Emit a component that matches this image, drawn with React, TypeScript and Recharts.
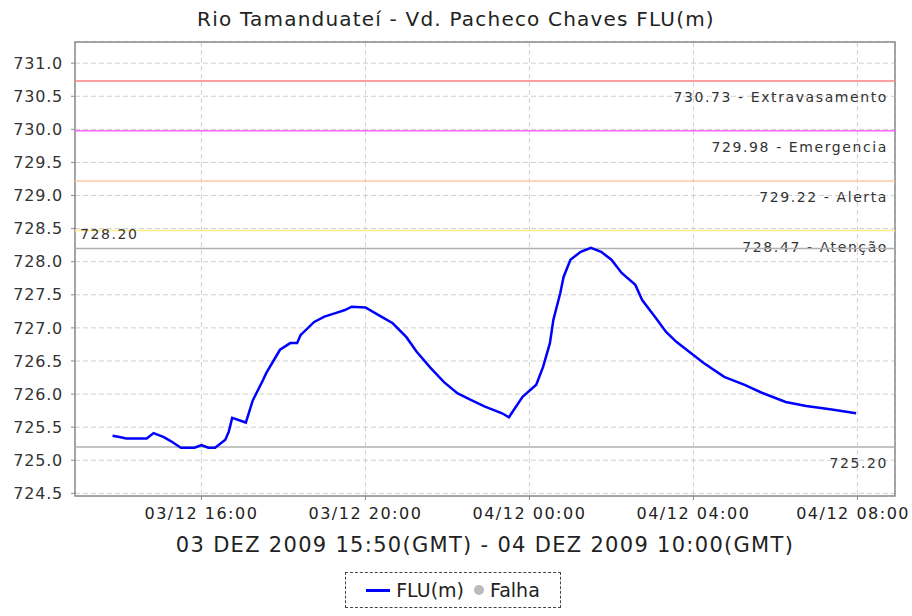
import { LineChart, Line, XAxis, YAxis, CartesianGrid, ReferenceLine, ReferenceArea } from "recharts";

// minutes since 03/12 00:00 (local time)
const MINUTES = [
  830, 840, 850, 880, 890, 905, 915, 930, 950, 960, 970, 980, 995, 1000, 1005, 1025, 1035, 1050, 1055,
  1075, 1090, 1100, 1105, 1125, 1140, 1155, 1170, 1180, 1200, 1220, 1240, 1260, 1275, 1295, 1315, 1335,
  1355, 1375, 1400, 1410, 1430, 1450, 1460, 1470, 1475, 1485, 1490, 1500, 1515, 1530, 1545, 1560, 1575,
  1595, 1605, 1625, 1640, 1655, 1670, 1695, 1725, 1755, 1780, 1815, 1845, 1880, 1918,
];
const LEVELS = [
  725.37, 725.35, 725.33, 725.33, 725.41, 725.35, 725.29, 725.19, 725.19, 725.23, 725.19, 725.19, 725.31,
  725.43, 725.64, 725.57, 725.9, 726.21, 726.32, 726.67, 726.77, 726.77, 726.89, 727.09, 727.17, 727.22,
  727.27, 727.32, 727.31, 727.19, 727.07, 726.86, 726.64, 726.4, 726.18, 726.01, 725.91, 725.81, 725.71,
  725.65, 725.96, 726.14, 726.41, 726.77, 727.12, 727.52, 727.77, 728.03, 728.15, 728.21, 728.15, 728.03,
  727.83, 727.65, 727.42, 727.15, 726.94, 726.79, 726.67, 726.47, 726.26, 726.14, 726.02, 725.88, 725.82,
  725.77, 725.71,
];

const X_TICKS = [960, 1200, 1440, 1680, 1920];
const X_TICK_LABELS = ["03/12 16:00", "03/12 20:00", "04/12 00:00", "04/12 04:00", "04/12 08:00"];
const Y_TICKS = [724.5, 725, 725.5, 726, 726.5, 727, 727.5, 728, 728.5, 729, 729.5, 730, 730.5, 731];

const LIMITS = [730.73, 729.98, 729.22, 728.47];
const LIMIT_NAMES = ["Extravasamento", "Emergencia", "Alerta", "Atenção"];
const LIMIT_COLORS = ["#ff8080", "#ff66ff", "#ffc8a0", "#ffee88"];
const MARKS = [728.2, 725.2];

const X_DOMAIN = [775, 1975];
const Y_DOMAIN = [724.46, 731.32];

const data = MINUTES.map((t, i) => ({ t, flu: LEVELS[i] }));

const FONT = "'DejaVu Sans', sans-serif";

const refText = (text: string, dy: number, left: boolean) => (props: any) => {
  const vb = props.viewBox;
  return (
    <text
      x={left ? vb.x + 5 : vb.x + vb.width - 7}
      y={vb.y + dy}
      textAnchor={left ? "start" : "end"}
      dominantBaseline="central"
      fontFamily={FONT}
      fontSize={14}
      letterSpacing={1.6}
      fill="#333"
    >
      {text}
    </text>
  );
};

const XTick = ({ x, y, payload, index }: any) => {
  // the last label would run past the right edge; pin it there
  const last = index === X_TICKS.length - 1;
  return (
    <text
      x={last ? 910 : x}
      y={y + 17}
      textAnchor={last ? "end" : "middle"}
      fontFamily={FONT}
      fontSize={16}
      letterSpacing={1.5}
      fill="#222"
    >
      {X_TICK_LABELS[X_TICKS.indexOf(payload.value)]}
    </text>
  );
};

export default function App() {
  return (
    <div style={{ position: "absolute", left: 0, top: 0, width: 912, height: 616, background: "#fff" }}>
      <div
        style={{
          position: "absolute",
          left: 0,
          top: 7,
          width: 912,
          textAlign: "center",
          fontFamily: FONT,
          fontSize: 20,
          letterSpacing: 1.2,
          color: "#222",
        }}
      >
        Rio Tamanduateí - Vd. Pacheco Chaves FLU(m)
      </div>
      <LineChart
        width={912}
        height={616}
        data={data}
        margin={{ top: 42, right: 17, left: 0, bottom: 70 }}
        style={{ position: "absolute", left: 0, top: 0 }}
      >
        <CartesianGrid stroke="#cfcfcf" strokeDasharray="5 3" />
        <XAxis
          dataKey="t"
          type="number"
          domain={X_DOMAIN}
          ticks={X_TICKS}
          allowDataOverflow
          height={50}
          tickSize={4}
          axisLine={false}
          tickLine={{ stroke: "#888" }}
          tick={<XTick />}
          label={{
            value: "03 DEZ 2009 15:50(GMT) - 04 DEZ 2009 10:00(GMT)",
            position: "insideBottom",
            offset: -6,
            style: { fontFamily: FONT, fontSize: 21, letterSpacing: 1.3, fill: "#222" },
          }}
        />
        <YAxis
          type="number"
          domain={Y_DOMAIN}
          ticks={Y_TICKS}
          allowDataOverflow
          width={75}
          tickSize={4}
          tickMargin={8}
          axisLine={false}
          tickLine={{ stroke: "#888" }}
          tickFormatter={(v: number) => v.toFixed(1)}
          tick={{ fontFamily: FONT, fontSize: 16, fill: "#333", letterSpacing: 0.8 }}
        />
        <ReferenceArea
          x1={X_DOMAIN[0]}
          x2={X_DOMAIN[1]}
          y1={Y_DOMAIN[0]}
          y2={Y_DOMAIN[1]}
          fill="none"
          stroke="#8c8c8c"
          strokeWidth={1.5}
          ifOverflow="visible"
        />
        {LIMITS.map((v, i) => (
          <ReferenceLine
            key={v}
            y={v}
            stroke={LIMIT_COLORS[i]}
            strokeWidth={1.5}
            label={refText(`${v.toFixed(2)} - ${LIMIT_NAMES[i]}`, 16, false)}
          />
        ))}
        <ReferenceLine y={MARKS[0]} stroke="#b0b0b0" strokeWidth={1.5} label={refText(MARKS[0].toFixed(2), -14, true)} />
        <ReferenceLine y={MARKS[1]} stroke="#b0b0b0" strokeWidth={1.5} label={refText(MARKS[1].toFixed(2), 16, false)} />
        <Line
          type="linear"
          dataKey="flu"
          name="FLU(m)"
          stroke="#0000ff"
          strokeWidth={2.5}
          dot={false}
          isAnimationActive={false}
        />
      </LineChart>
      <div
        style={{
          position: "absolute",
          left: 345,
          top: 572,
          width: 216,
          height: 36,
          border: "1.5px dashed #444",
          display: "flex",
          alignItems: "center",
          justifyContent: "center",
          gap: 6,
          fontFamily: FONT,
          fontSize: 19,
          color: "#222",
          boxSizing: "border-box",
        }}
      >
        <span style={{ display: "inline-block", width: 24, height: 3, background: "#0000ff" }} />
        <span>FLU(m)</span>
        <span style={{ display: "inline-block", width: 10, height: 10, borderRadius: 5, background: "#bbb", marginLeft: 4 }} />
        <span>Falha</span>
      </div>
    </div>
  );
}
